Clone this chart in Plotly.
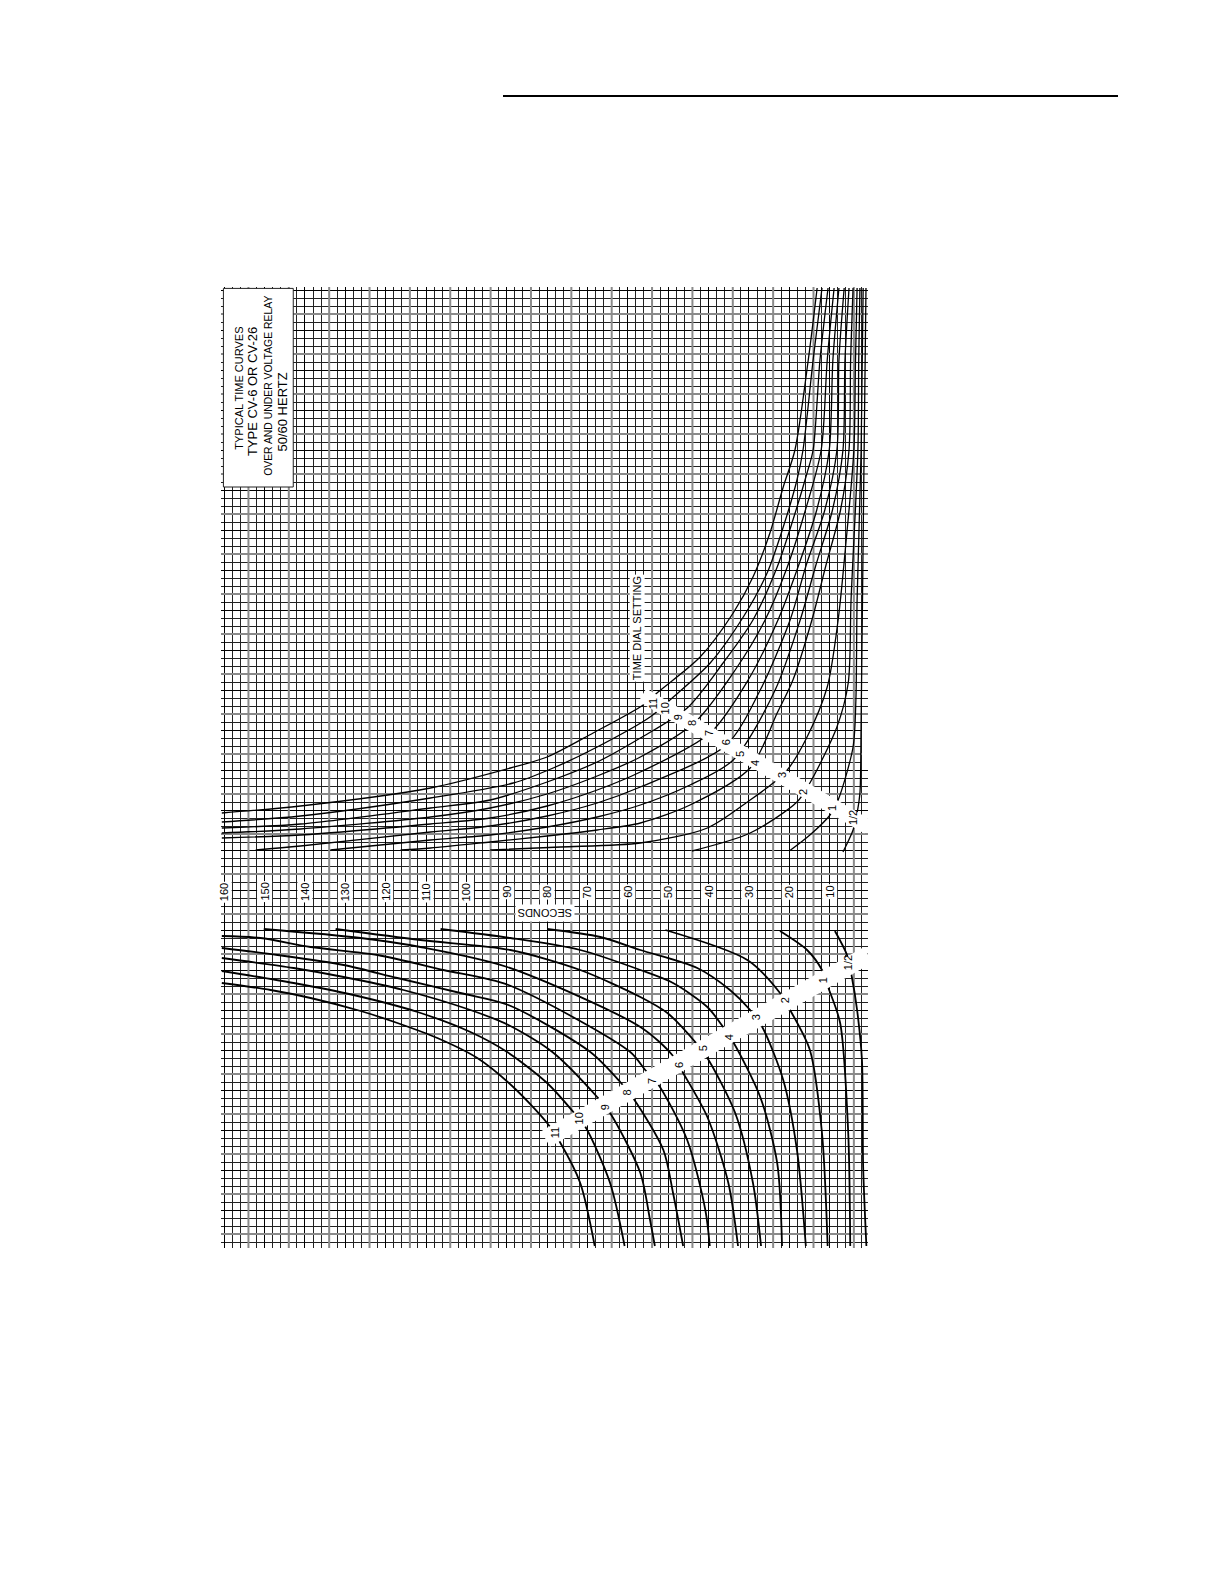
import plotly.graph_objects as go

# Time in seconds (s) against percent of tap value (p) for each time dial setting.
up11_s = [160.6,141.1,108.9,89.1,80.0,68.6,56.2,52.5,42.1,33.9,29.0,24.8,21.5,18.6,15.3,13.1]
up11_p = [119.25,121,125.5,130.5,133.25,139.25,146.25,149.5,158.25,169.25,178.25,189.25,200.75,210,232.5,250.5]
up10_s = [160.6,141.1,108.9,88.4,78.5,67.6,54.5,49.0,39.6,31.4,25.5,21.5,18.1,16.6,14.1,11.9]
up10_p = [117,118.5,123,126.75,130.5,135.75,143.25,148,156.75,168.25,179.25,190.75,202.5,210,232.5,250.5]
up9_s = [160.6,141.1,108.9,94.1,80.0,67.6,56.9,45.3,36.4,29.0,23.0,19.1,15.6,14.1,12.4,10.4]
up9_p = [115.5,116.5,120.5,122.5,127,132,138,145.5,156.75,167.5,180.75,192.5,204.25,210,232.5,250.5]
up8_s = [160.6,141.1,108.9,94.1,80.0,67.6,56.9,43.3,33.4,26.0,20.5,16.0,12.1,10.6,8.9]
up8_p = [114.25,115.25,118.25,120.5,124,128.5,133.25,142,155,167.5,180.75,195,210,232.5,250.5]
up7_s = [160.6,141.1,108.9,94.1,80.0,67.6,56.9,39.6,30.2,22.8,18.1,13.2,10.1,9.2,7.7]
up7_p = [113,113.75,116.5,118,121,125,129.5,139.25,152.5,167.5,180,195,210,232.5,250.5]
up6_s = [152.2,141.1,108.9,94.1,80.0,67.6,56.9,35.6,27.2,19.8,15.8,11.2,8.2,7.7,6.4]
up6_p = [110,111,114.5,116,118.5,121.75,125.75,136.25,150,167.5,181.25,195,210,232.5,250.5]
up5_s = [133.7,108.9,94.1,80.0,67.6,56.9,44.6,33.9,23.5,17.3,13.4,9.3,6.7,6.2,5.2]
up5_p = [110,112.5,113.75,115.75,118.25,121.25,126.25,132.5,150,167.5,181.25,195,210,232.5,250.5]
up4_s = [116.3,108.9,94.1,80.0,67.6,56.9,44.6,29.7,23.0,19.1,14.4,10.9,7.3,5.2,4.8,4.2]
up4_p = [110,110.5,112,113.5,115,116.75,121.25,130.5,144.25,152.5,167.5,181.25,195,210,232.5,250.5]
up3_s = [94.1,76.7,56.9,40.3,29.7,24.0,20.5,15.6,10.6,7.9,5.9,4.0,3.6,3.2]
up3_p = [110,110.75,111.75,115.5,122.5,126.75,130,138.25,150.75,167.5,187.5,210,232.5,250.5]
up2_s = [44.1,29.7,18.1,14.9,8.2,5.4,4.7,3.0,2.8,2.5]
up2_p = [109.75,114.25,122,126.75,140.75,151.75,172.5,210,232.5,250.5]
up1_s = [20.0,14.9,9.9,7.9,4.2,3.5,3.2,2.2,1.7]
up1_p = [109.75,113.75,118.75,122.5,135.75,147.5,172.5,210,250.5]
uphalf_s = [6.7,4.2,3.2,2.5,2.2,1.6,1.0]
uphalf_p = [109.5,115,119.25,124.25,142.5,197.5,250.5]

lo11_s = [160.6,148.5,138.6,126.2,117.1,107.2,97.3,88.4,80.0,76.7,71.8,68.2]
lo11_p = [76.75,75,73,69.75,66.75,63,58,50.75,41.75,36.75,26.75,11]
lo10_s = [160.6,142.8,128.0,112.1,99.0,89.9,80.0,73.5,70.5,64.4,60.8]
lo10_p = [79.75,76.75,73.75,69.5,64.5,59.5,51.75,44.5,40.75,26.75,11]
lo9_s = [160.6,142.8,130.4,115.6,99.0,89.6,78.7,67.6,64.4,56.9,54.5,53.3]
lo9_p = [83,80.5,78.25,75,70,66.25,59.5,48.25,44.25,29.25,17.5,11]
lo8_s = [160.6,146.8,130.4,117.1,101.5,89.6,69.3,61.9,58.7,51.2,48.8,46.3]
lo8_p = [85.5,83.75,81.25,78,74.25,71.25,59.5,52,48,35,24.25,11]
lo7_s = [160.6,151.0,138.6,122.0,105.7,89.6,59.4,55.7,52.7,45.3,40.8,39.7]
lo7_p = [88.5,88,85.75,83.75,80,76.25,59.5,55,51.75,37.5,20,11]
lo6_s = [150.2,126.2,111.4,89.9,56.9,49.0,46.3,40.3,35.1,32.7]
lo6_p = [90.25,88,85.75,80.75,65.75,58.75,54.25,43.25,26.75,11]
lo5_s = [132.4,111.4,89.1,71.8,56.9,50.2,43.3,40.3,33.4,29.0,27.0]
lo5_p = [90.25,87.5,85,80,73.25,69.25,62,58,44.25,26.75,11]
lo4_s = [106.4,89.1,71.8,56.9,48.8,40.3,36.4,33.9,27.2,23.0,21.8]
lo4_p = [90.25,88,85,80,76.75,70.75,65.75,62,48.25,31.75,11]
lo3_s = [80.0,66.8,56.9,42.8,34.7,29.7,26.7,21.5,18.1,15.9]
lo3_p = [90.25,88.25,85,80.5,75,70,65.75,52.5,35,11]
lo2_s = [50.7,30.4,22.3,19.8,14.9,11.9,10.5]
lo2_p = [90,82.5,74.25,70,60,39.25,11]
lo1_s = [22.3,15.6,11.9,10.4,7.4,5.4,4.9]
lo1_p = [89.75,85,80,75.75,66.75,39.25,11]
lohalf_s = [8.7,5.7,4.5,3.2,2.0,1.7,0.9]
lohalf_p = [89.75,83.75,78.25,70,57.5,30.75,11]

dial_names = ["11","10","9","8","7","6","5","4","3","2","1","1/2"]
up_label_s = [53.7,50.7,47.5,44.1,39.9,35.6,32.2,28.5,21.8,16.6,9.4,4.2]
up_label_p = [146.5,145.5,143.25,141.75,139.25,137,134,131.75,128.75,124.5,120.5,118]
lo_label_s = [78.0,72.0,65.6,60.1,54.0,47.3,41.3,34.9,28.2,21.0,11.6,5.4]
lo_label_p = [39.25,43,45.75,49.5,52.25,56.25,60.5,63.25,68.25,72.5,77.5,81.75]
band_up_s = [56.4,0.5]
band_up_p = [148.75,115.75]
band_lo_s = [80.4,0.5]
band_lo_p = [37.75,83.75]
second_ticks = [160,150,140,130,120,110,100,90,80,70,60,50,40,30,20,10,0]
gray_s = [154,144,134,124,114,104,94,84,74,64,54,44,34,24,14,4]
gray_p = [14,24,34,44,54,64,74,84,94,104,114,124,134,144,154,164,174,184,194,204,214,224,234,244]
title_lines = ["TYPICAL TIME CURVES","TYPE CV-6 OR CV-26","OVER AND UNDER VOLTAGE RELAY","50/60 HERTZ"]

upper = [(up11_s,up11_p),(up10_s,up10_p),(up9_s,up9_p),(up8_s,up8_p),(up7_s,up7_p),(up6_s,up6_p),
         (up5_s,up5_p),(up4_s,up4_p),(up3_s,up3_p),(up2_s,up2_p),(up1_s,up1_p),(uphalf_s,uphalf_p)]
lower = [(lo11_s,lo11_p),(lo10_s,lo10_p),(lo9_s,lo9_p),(lo8_s,lo8_p),(lo7_s,lo7_p),(lo6_s,lo6_p),
         (lo5_s,lo5_p),(lo4_s,lo4_p),(lo3_s,lo3_p),(lo2_s,lo2_p),(lo1_s,lo1_p),(lohalf_s,lohalf_p)]

S_MAX, S_MIN = 160.8, 0.5
P_MIN, P_MAX = 10.5, 250.75
FONT = "Liberation Sans"

fig = go.Figure()
for s in gray_s:
    fig.add_trace(go.Scatter(x=[s, s], y=[P_MIN, P_MAX], mode="lines", hoverinfo="skip",
                             line=dict(color="#8a8a8a", width=2)))
for p in gray_p:
    fig.add_trace(go.Scatter(x=[S_MAX, S_MIN], y=[p, p], mode="lines", hoverinfo="skip",
                             line=dict(color="#8a8a8a", width=2)))
for s, p in upper:
    fig.add_trace(go.Scatter(x=s, y=p, mode="lines", hoverinfo="skip",
                             line=dict(color="black", width=1.3, shape="spline", smoothing=0.8)))
for s, p in lower:
    fig.add_trace(go.Scatter(x=s, y=p, mode="lines", hoverinfo="skip",
                             line=dict(color="black", width=1.8, shape="spline", smoothing=0.8)))
fig.add_trace(go.Scatter(x=band_up_s, y=band_up_p, mode="lines", line=dict(color="white", width=15)))
fig.add_trace(go.Scatter(x=band_lo_s, y=band_lo_p, mode="lines", line=dict(color="white", width=18)))

ann = []
for t in second_ticks:
    ann.append(dict(x=t, y=99.5, xref="x", yref="y", text=str(t), showarrow=False, textangle=-90,
                    bgcolor="white", borderpad=1, font=dict(family=FONT, size=11, color="black")))
for name, s, p in zip(dial_names, up_label_s, up_label_p):
    ann.append(dict(x=s, y=p, xref="x", yref="y", text=name, showarrow=False, textangle=-90,
                    font=dict(family=FONT, size=11, color="black")))
for name, s, p in zip(dial_names, lo_label_s, lo_label_p):
    ann.append(dict(x=s, y=p, xref="x", yref="y", text=name, showarrow=False, textangle=-90,
                    font=dict(family=FONT, size=11, color="black")))
ann.append(dict(x=80.4, y=94.25, xref="x", yref="y", text="SECONDS", showarrow=False, textangle=180,
                bgcolor="white", borderpad=2, font=dict(family=FONT, size=11, color="black")))
ann.append(dict(x=57.7, y=165.5, xref="x", yref="y", text="TIME DIAL SETTING", showarrow=False, textangle=-90,
                bgcolor="white", borderpad=1, font=dict(family=FONT, size=11, color="black")))
for line, sx, py, sz in zip(title_lines, [156.4,153.1,149.2,145.8], [225.5,224.5,226,219.5], [11,13,10.4,13]):
    ann.append(dict(x=sx, y=py, xref="x", yref="y", text=line, showarrow=False, textangle=-90,
                    font=dict(family=FONT, size=sz, color="black")))

shapes = [
    dict(type="rect", xref="x", yref="y", x0=160.2, x1=142.9, y0=200.75, y1=250.4, layer="above",
         fillcolor="white", line=dict(color="#222", width=1)),
    dict(type="rect", xref="x", yref="y", x0=2.0, x1=0.5, y0=130, y1=140, layer="above",
         fillcolor="white", line=dict(width=0)),
    dict(type="line", xref="paper", yref="paper", x0=(495-213)/647, x1=(1110-213)/647,
         y0=1+(279-88)/961, y1=1+(279-88)/961, line=dict(color="black", width=2)),
]

grid = dict(showticklabels=False, ticks="", zeroline=False, showline=False)
fig.update_layout(
    width=1208, height=1566, paper_bgcolor="white", plot_bgcolor="white", showlegend=False,
    margin=dict(l=213, r=348, t=279, b=326, pad=0),
    xaxis=dict(range=[S_MAX, S_MIN], dtick=10, tick0=0, showgrid=True, gridcolor="#000", gridwidth=1,
               minor=dict(dtick=2, tick0=0, showgrid=True, gridcolor="#222", gridwidth=1), **grid),
    yaxis=dict(range=[P_MIN, P_MAX], dtick=10, tick0=0, showgrid=True, gridcolor="#000", gridwidth=1,
               minor=dict(dtick=2, tick0=0, showgrid=True, gridcolor="#222", gridwidth=1), **grid),
    annotations=ann, shapes=shapes,
)
fig.write_html("out.html")
